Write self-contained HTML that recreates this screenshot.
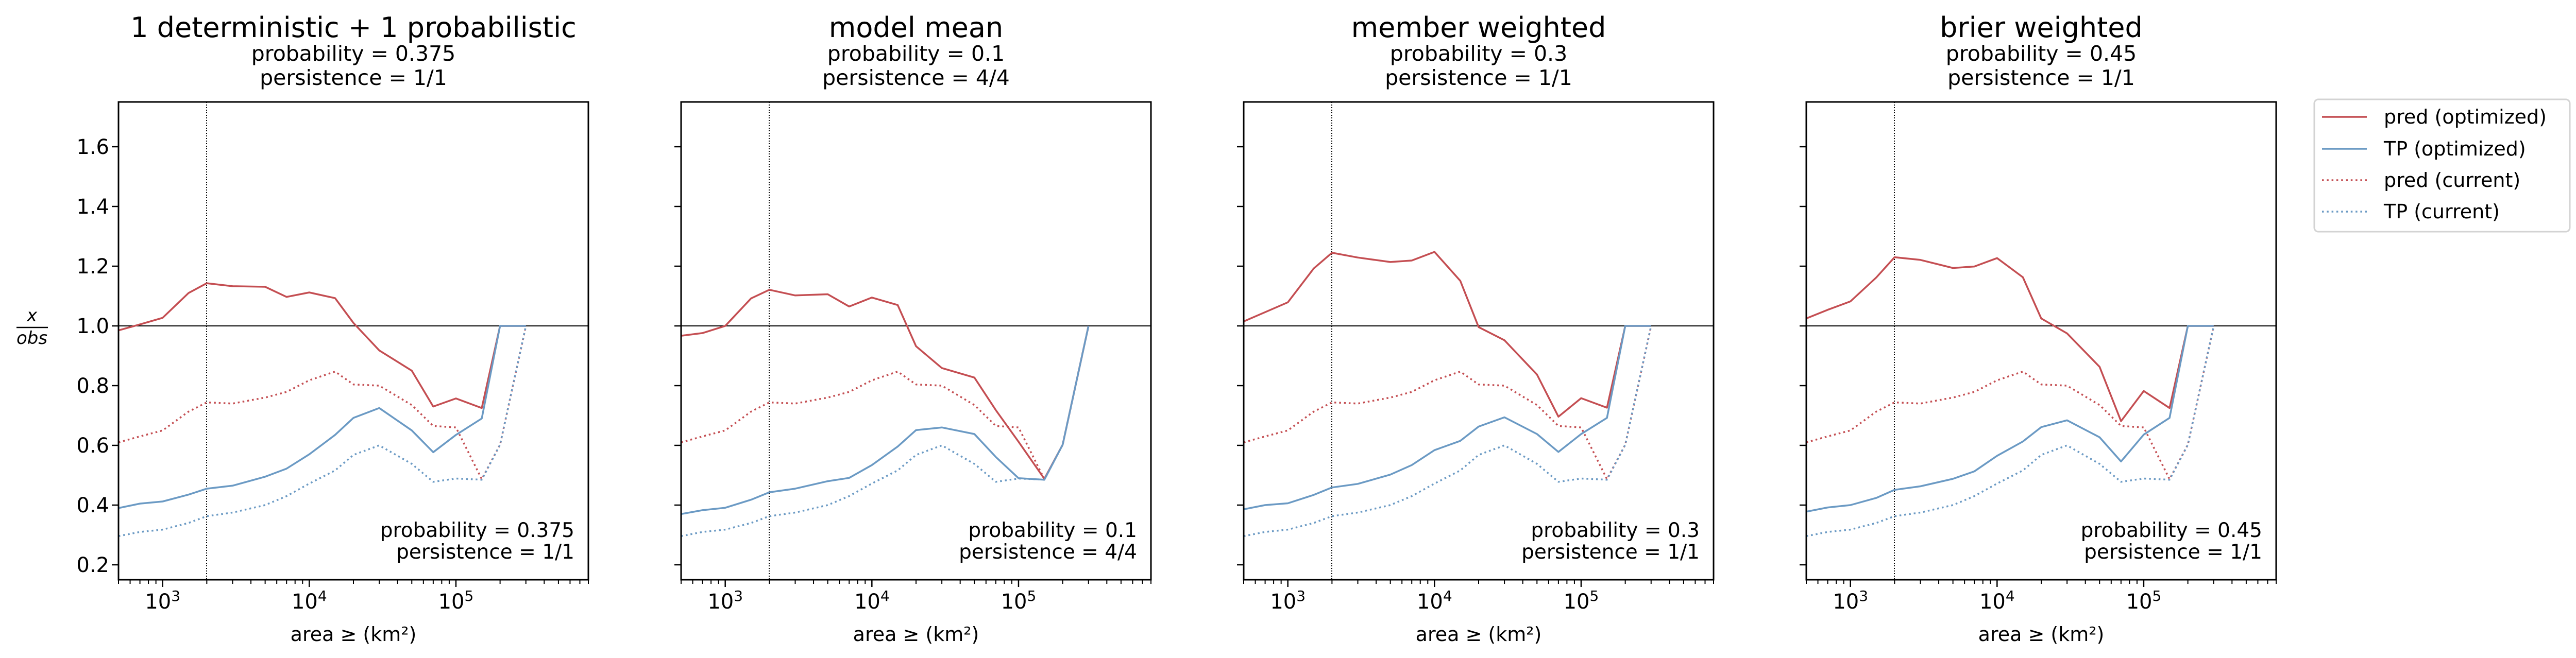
<!DOCTYPE html>
<html>
<head>
<meta charset="utf-8">
<style>
  html,body{margin:0;padding:0;background:#fff;}
  svg{display:block;font-family:"DejaVu Sans","Liberation Sans",sans-serif;}
</style>
</head>
<body>
<svg id="chart" width="5018" height="1278" viewBox="0 0 5018 1278" xmlns="http://www.w3.org/2000/svg">
  <rect x="0" y="0" width="5018" height="1278" fill="#fff"/>
  <g id="legend">
    <rect x="4492" y="193" width="496" height="257" rx="8" fill="#fff" stroke="#d3d3d3" stroke-width="3"/>
    <g>
      <line x1="4507" y1="227" x2="4594" y2="227" stroke="#c44e52" stroke-width="3.5"/>
      <text x="4627" y="240" font-size="38">pred (optimized)</text>
    </g>
    <g>
      <line x1="4507" y1="289" x2="4594" y2="289" stroke="#6b9ac4" stroke-width="3.5"/>
      <text x="4627" y="302" font-size="38">TP (optimized)</text>
    </g>
    <g>
      <line x1="4507" y1="350" x2="4594" y2="350" stroke="#c44e52" stroke-width="3.5" stroke-dasharray="3.5,5.8"/>
      <text x="4627" y="363" font-size="38">pred (current)</text>
    </g>
    <g>
      <line x1="4507" y1="411" x2="4594" y2="411" stroke="#6b9ac4" stroke-width="3.5" stroke-dasharray="3.5,5.8"/>
      <text x="4627" y="424" font-size="38">TP (current)</text>
    </g>
  </g>
</svg>
<script>
// ---- data ----
const areas = [500,700,1000,1500,2000,3000,5000,7000,10000,15000,20000,30000,50000,70000,100000,150000,200000,300000];
const panelTitles = ["1 deterministic + 1 probabilistic","model mean","member weighted","brier weighted"];
const panelProbabilities = ["0.375","0.1","0.3","0.45"];
const panelPersistence = ["1/1","4/4","1/1","1/1"];
const predOptimized = [
  [0.985,1.005,1.027,1.11,1.143,1.133,1.131,1.097,1.112,1.093,1.01,0.918,0.85,0.73,0.757,0.725,1.0,1.0],
  [0.967,0.976,1.0,1.092,1.121,1.102,1.106,1.065,1.095,1.070,0.932,0.859,0.827,0.718,0.612,0.488,0.602,1.0],
  [1.015,1.046,1.079,1.192,1.245,1.229,1.214,1.219,1.248,1.151,0.996,0.952,0.837,0.696,0.758,0.726,1.0,1.0],
  [1.025,1.054,1.082,1.162,1.230,1.221,1.194,1.199,1.227,1.163,1.025,0.975,0.863,0.681,0.782,0.725,1.0,1.0]
];
const tpOptimized = [
  [0.39,0.405,0.412,0.435,0.455,0.465,0.495,0.522,0.57,0.635,0.692,0.725,0.65,0.577,0.635,0.69,1.0,1.0],
  [0.370,0.383,0.391,0.418,0.443,0.455,0.480,0.491,0.534,0.596,0.651,0.660,0.638,0.561,0.490,0.485,0.602,1.0],
  [0.386,0.40,0.406,0.434,0.459,0.471,0.502,0.534,0.584,0.615,0.663,0.694,0.638,0.578,0.638,0.692,1.0,1.0],
  [0.378,0.392,0.400,0.424,0.451,0.463,0.488,0.513,0.565,0.613,0.661,0.684,0.627,0.546,0.636,0.692,1.0,1.0]
];
const predCurrent = [0.61,0.63,0.65,0.713,0.744,0.74,0.76,0.779,0.818,0.847,0.804,0.80,0.735,0.665,0.66,0.487,0.602,1.0];
const tpCurrent = [0.296,0.31,0.318,0.34,0.363,0.375,0.40,0.43,0.472,0.516,0.568,0.60,0.538,0.478,0.489,0.485,0.602,1.0];
const yTicks = [0.2,0.4,0.6,0.8,1.0,1.2,1.4,1.6];
const yTickLabels = ["0.2","0.4","0.6","0.8","1.0","1.2","1.4","1.6"];
const xMajorExps = [3,4,5];
const xLimits = [500, 800000];
const yLimits = [0.15, 1.75];
const referenceArea = 2000;
const referenceRatio = 1.0;

// ---- layout ----
const NS = "http://www.w3.org/2000/svg";
const svg = document.getElementById("chart");
const TOP = 198, BOTTOM = 1126, W = 912;
const RED = "#c44e52", BLUE = "#6b9ac4";
function mk(tag, attrs, parent){
  const e = document.createElementNS(NS, tag);
  for (const k in attrs) e.setAttribute(k, attrs[k]);
  (parent||svg).appendChild(e);
  return e;
}
function panelLeft(i){ return 230 + 1092*i; }
function xScale(i, v){
  const l0 = Math.log10(xLimits[0]), l1 = Math.log10(xLimits[1]);
  return panelLeft(i) + (Math.log10(v)-l0)/(l1-l0)*W;
}
function yScale(v){ return BOTTOM - (v-yLimits[0])/(yLimits[1]-yLimits[0])*(BOTTOM-TOP); }

for (let i=0;i<4;i++){
  const L = panelLeft(i), R = L+W;
  const g = mk("g",{});
  
  
  const cx = L+W/2;
  const t = mk("text",{x:cx,y:72,"font-size":54,"text-anchor":"middle"},g);
  t.textContent = panelTitles[i];
  
  
  const s1 = mk("text",{x:cx,y:118,"font-size":41,"text-anchor":"middle"},g);
  s1.textContent = "probability = " + panelProbabilities[i];
  
  
  const s2 = mk("text",{x:cx,y:165,"font-size":41,"text-anchor":"middle"},g);
  s2.textContent = "persistence = " + panelPersistence[i];
  
  

  const cp = mk("clipPath",{id:"clip"+i},g);
  mk("rect",{x:L,y:TOP,width:W,height:BOTTOM-TOP},cp);
  const plot = mk("g",{"clip-path":"url(#clip"+i+")"},g);
  
  

  const hl = mk("line",{x1:L,x2:R,y1:yScale(referenceRatio),y2:yScale(referenceRatio),stroke:"#000","stroke-width":2},plot);
  
  
  const vx = Math.round(xScale(i,referenceArea));
  const vl = mk("line",{x1:vx,x2:vx,y1:TOP,y2:BOTTOM,stroke:"#000","stroke-width":2,"stroke-dasharray":"2,3"},plot);
  
  

  function series(vals, color, dotted, name){
    const pts = areas.map((a,k)=>xScale(i,a).toFixed(1)+","+yScale(vals[k]).toFixed(1)).join(" ");
    const p = mk("polyline",{points:pts,fill:"none",stroke:color,"stroke-width":3.5,"stroke-linejoin":"round"},plot);
    if (dotted) p.setAttribute("stroke-dasharray","3.5,5.8");
    
    
  }
  series(predCurrent, RED, true, "series-pred-current");
  series(tpCurrent, BLUE, true, "series-tp-current");
  series(predOptimized[i], RED, false, "series-pred-optimized");
  series(tpOptimized[i], BLUE, false, "series-tp-optimized");

  const fr = mk("rect",{x:L,y:TOP,width:W,height:BOTTOM-TOP,fill:"none",stroke:"#000","stroke-width":3},g);
  
  

  yTicks.forEach((v,k)=>{
    const y = yScale(v);
    mk("line",{x1:L-13,x2:L,y1:y,y2:y,stroke:"#000","stroke-width":2.5},g);
    if (i===0){
      const tl = mk("text",{x:L-18,y:y+14,"font-size":40,"text-anchor":"end"},g);
      tl.textContent = yTickLabels[k];
      
      
    }
  });
  for (let e=2;e<=5;e++){
    for (let m=1;m<=9;m++){
      const v = m*Math.pow(10,e);
      if (v<xLimits[0] || v>xLimits[1]) continue;
      const x = xScale(i,v);
      mk("line",{x1:x,x2:x,y1:BOTTOM,y2:BOTTOM+(m===1?14:8),stroke:"#000","stroke-width":m===1?2.5:2},g);
    }
  }
  xMajorExps.forEach(e=>{
    const x = xScale(i,Math.pow(10,e));
    const tl = mk("text",{x:x,y:1182,"font-size":40,"text-anchor":"middle"},g);
    
    
    const a = mk("tspan",{},tl); a.textContent = "10";
    const b = mk("tspan",{dy:-15,"font-size":28},tl); b.textContent = String(e);
  });
  const xl = mk("text",{x:cx,y:1245,"font-size":38,"text-anchor":"middle"},g);
  xl.textContent = "area ≥ (km²)";
  
  

  const a1 = mk("text",{x:R-27,y:1043,"font-size":39,"text-anchor":"end"},g);
  a1.textContent = "probability = " + panelProbabilities[i];
  
  
  const a2 = mk("text",{x:R-27,y:1085,"font-size":39,"text-anchor":"end"},g);
  a2.textContent = "persistence = " + panelPersistence[i];
  
  
}

const yt = mk("g",{});


const nx = mk("text",{x:62,y:624,"font-size":34,"font-style":"italic","text-anchor":"middle"},yt);
nx.textContent = "x";
mk("line",{x1:32,x2:93,y1:636,y2:636,stroke:"#000","stroke-width":2.5},yt);
const dn = mk("text",{x:62,y:668,"font-size":34,"font-style":"italic","text-anchor":"middle"},yt);
dn.textContent = "obs";
</script>
</body>
</html>
